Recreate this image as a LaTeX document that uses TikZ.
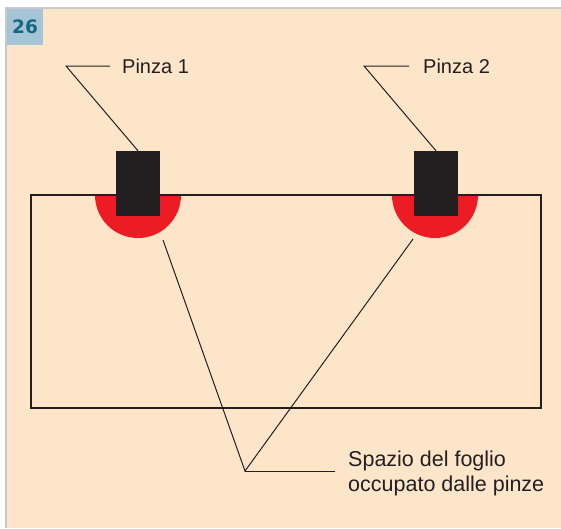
\documentclass[tikz,border=0pt]{standalone}
\usepackage{fontspec}
\setmainfont{Liberation Sans}
\newfontfamily\numfont{DejaVu Sans}
\usetikzlibrary{positioning}

\definecolor{carta}{RGB}{253,229,202}
\definecolor{cornice}{RGB}{200,200,200}
\definecolor{boxblu}{RGB}{165,196,214}
\definecolor{numblu}{RGB}{22,104,128}
\definecolor{rosso}{RGB}{237,28,36}
\definecolor{nero}{RGB}{35,31,32}

\begin{document}
\begin{tikzpicture}[
    x=1pt,y=-1pt,
    clamp/.style={rectangle,fill=nero,inner sep=0pt,minimum width=44pt,minimum height=65pt},
    label txt/.style={font=\fontsize{20}{25}\selectfont,text=nero,inner ysep=0pt},
    leader/.style={line width=1pt,draw=nero}
]

\useasboundingbox (0,0) rectangle (561,528);
\fill[white] (0,0) rectangle (561,528);
\fill[carta] (6,8) rectangle (561,528);
\draw[cornice,line width=1.5pt] (6,528) -- (6,8) -- (561,8);

% numero della figura
\node[fill=boxblu,minimum width=36pt,minimum height=36pt,inner sep=0pt,
      font=\numfont\fontsize{18.5}{18.5}\selectfont\bfseries,text=numblu] (numero) at (25,27) {26};

% zone occupate dalle pinze
\fill[rosso] (95,195) arc[start angle=180,end angle=360,radius=43pt];
\fill[rosso] (392,195) arc[start angle=180,end angle=360,radius=43pt];

% foglio
\draw[nero,line width=2pt] (31,195) rectangle (541,408);

% pinze
\node[clamp] (pinza1) at (138,183.5) {};
\node[clamp] (pinza2) at (436,183.5) {};

% richiami
\coordinate (gomito1) at (66,66);
\coordinate (gomito2) at (364,66);
\node[label txt,anchor=west,inner xsep=12pt] (lblpinza1) at (110,66) {Pinza 1};
\node[label txt,anchor=west,inner xsep=14pt] (lblpinza2) at (409,66) {Pinza 2};

\draw[leader] (lblpinza1.west) -- (gomito1) -- (pinza1.north);
\draw[leader] (lblpinza2.west) -- (gomito2) -- (pinza2.north);

\coordinate (vertice) at (245,471);
\coordinate (fine) at (335,471);
\coordinate (zona1) at (163,240);
\coordinate (zona2) at (413,239);
\node[label txt,font=\fontsize{21.5}{25}\selectfont,anchor=north west,inner sep=0pt,align=left]
    (lblspazio) at (348,451) {Spazio del foglio\\occupato dalle pinze};

\draw[leader] (zona1) -- (vertice) -- (zona2);
\draw[leader] (vertice) -- (fine);

\end{tikzpicture}
\end{document}
